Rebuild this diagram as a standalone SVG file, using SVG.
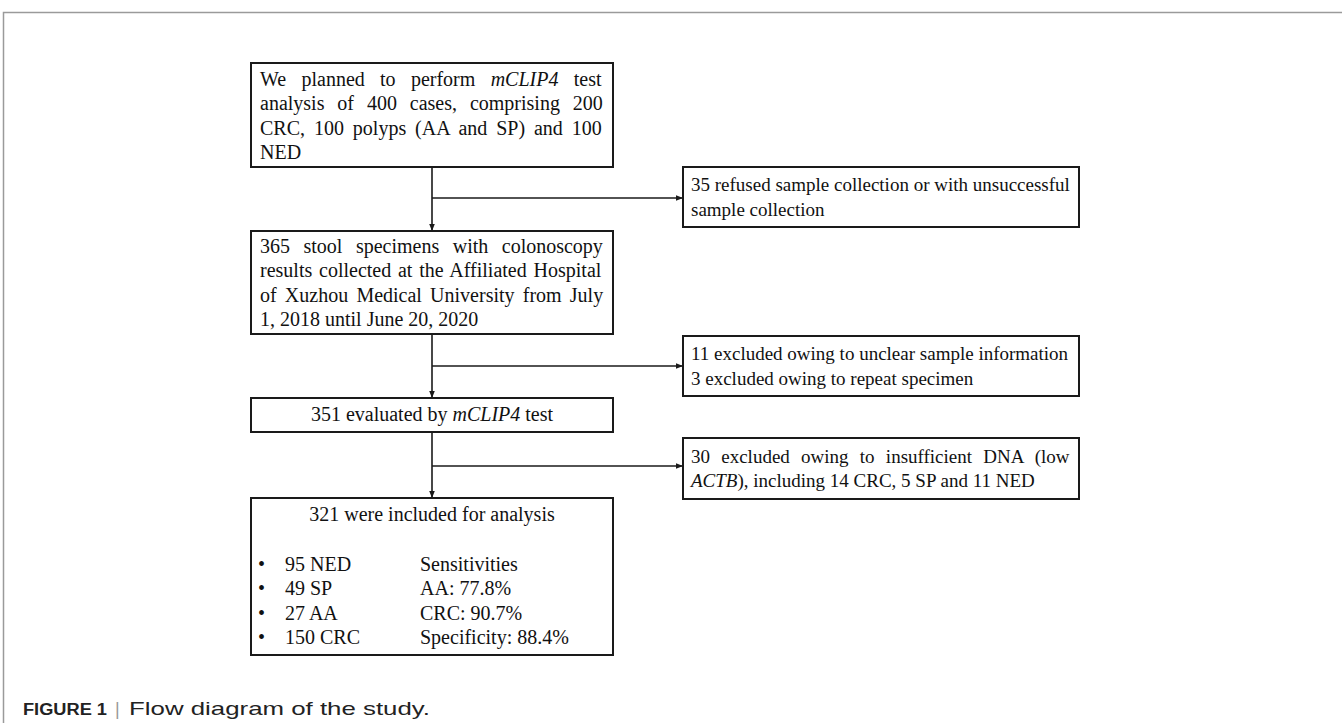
<svg xmlns="http://www.w3.org/2000/svg" width="1342" height="723" viewBox="0 0 1342 723">
<style>
.box{fill:#fff;stroke:#1a1a1a;stroke-width:2}
.t{font-family:"Liberation Serif","Times New Roman",serif;font-size:20px;fill:#111}
.s{font-family:"Liberation Serif","Times New Roman",serif;font-size:19px;fill:#111}
.i{font-style:italic}
.c{text-anchor:middle}
.ln{fill:none;stroke:#1a1a1a;stroke-width:1.6}
.cap{font-family:"Liberation Sans",Arial,sans-serif;fill:#222}
</style>
<defs>
<marker id="ah" viewBox="0 0 10 10" refX="10" refY="5" markerWidth="7" markerHeight="7" markerUnits="userSpaceOnUse" orient="auto">
<path d="M0,1 L10,5 L0,9 Z" fill="#1a1a1a"/>
</marker>
</defs>
<rect width="1342" height="723" fill="#fff"/>
<path d="M3.5,723 V12.5 H1342" fill="none" stroke="#9a9a9a" stroke-width="1.5"/>

<g id="connectors">
<path class="ln" d="M432,167 V231" marker-end="url(#ah)"/>
<path class="ln" d="M432,198 H683" marker-end="url(#ah)"/>
<path class="ln" d="M432,334 V398" marker-end="url(#ah)"/>
<path class="ln" d="M432,366 H683" marker-end="url(#ah)"/>
<path class="ln" d="M432,432 V498" marker-end="url(#ah)"/>
<path class="ln" d="M432,466 H683" marker-end="url(#ah)"/>
</g>

<g id="plan">
<rect class="box" x="251" y="63" width="362" height="104"/>
<text class="t" x="260" y="86" style="word-spacing:10.3px">We planned to perform <tspan class="i">mCLIP4</tspan> test</text>
<text class="t" x="260" y="110" style="word-spacing:7.9px">analysis of 400 cases, comprising 200</text>
<text class="t" x="260" y="135" style="word-spacing:3.9px">CRC, 100 polyps (AA and SP) and 100</text>
<text class="t" x="260" y="159">NED</text>
</g>

<g id="refused">
<rect class="box" x="683" y="167" width="396" height="60"/>
<text class="s" x="691" y="191">35 refused sample collection or with unsuccessful</text>
<text class="s" x="691" y="216">sample collection</text>
</g>

<g id="collected">
<rect class="box" x="251" y="231" width="362" height="103"/>
<text class="t" x="260" y="253" style="word-spacing:8.5px">365 stool specimens with colonoscopy</text>
<text class="t" x="260" y="277" style="word-spacing:1.8px">results collected at the Affiliated Hospital</text>
<text class="t" x="260" y="302" style="word-spacing:3.2px">of Xuzhou Medical University from July</text>
<text class="t" x="260" y="326">1, 2018 until June 20, 2020</text>
</g>

<g id="excluded1">
<rect class="box" x="683" y="336" width="396" height="60"/>
<text class="s" x="691" y="360">11 excluded owing to unclear sample information</text>
<text class="s" x="691" y="385">3 excluded owing to repeat specimen</text>
</g>

<g id="evaluated">
<rect class="box" x="251" y="398" width="362" height="34"/>
<text class="t c" x="432" y="421">351 evaluated by <tspan class="i">mCLIP4</tspan> test</text>
</g>

<g id="excluded2">
<rect class="box" x="683" y="438" width="396" height="61"/>
<text class="s" x="691" y="463" style="word-spacing:6.5px">30 excluded owing to insufficient DNA (low</text>
<text class="s" x="691" y="487"><tspan class="i">ACTB</tspan>), including 14 CRC, 5 SP and 11 NED</text>
</g>

<g id="included">
<rect class="box" x="251" y="498" width="362" height="157"/>
<text class="t c" x="432" y="521">321 were included for analysis</text>
<text class="t" x="258" y="571">•</text>
<text class="t" x="258" y="595">•</text>
<text class="t" x="258" y="620">•</text>
<text class="t" x="258" y="644">•</text>
<text class="t" x="285" y="571">95 NED</text>
<text class="t" x="285" y="595">49 SP</text>
<text class="t" x="285" y="620">27 AA</text>
<text class="t" x="285" y="644">150 CRC</text>
<text class="t" x="420" y="571">Sensitivities</text>
<text class="t" x="420" y="595">AA: 77.8%</text>
<text class="t" x="420" y="620">CRC: 90.7%</text>
<text class="t" x="420" y="644">Specificity: 88.4%</text>
</g>

<g id="caption">
<text class="cap" x="23" y="715" font-size="16" font-weight="bold" textLength="84" lengthAdjust="spacingAndGlyphs">FIGURE 1</text>
<text class="cap" x="115" y="715" font-size="18" style="fill:#999">|</text>
<text class="cap" x="129" y="715" font-size="19" textLength="301" lengthAdjust="spacingAndGlyphs">Flow diagram of the study.</text>
</g>
</svg>
